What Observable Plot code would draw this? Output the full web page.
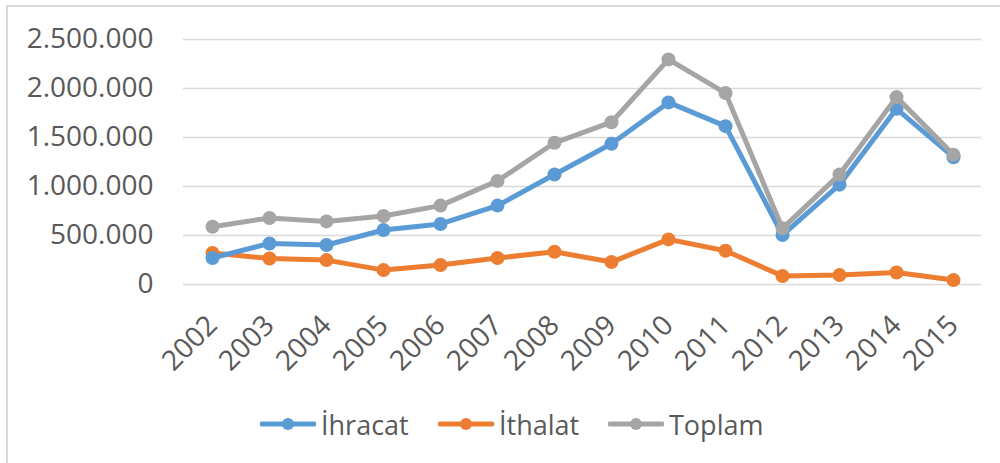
<!DOCTYPE html>
<html>
<head>
<meta charset="utf-8">
<script src="https://cdn.jsdelivr.net/npm/d3@7"></script>
<script src="https://cdn.jsdelivr.net/npm/@observablehq/plot@0.6"></script>
<style>
  html, body { margin: 0; padding: 0; background: #fff; width: 1000px; height: 463px; overflow: hidden; position: relative; }
  #frame { position: absolute; left: 6px; top: 5px; width: 1100px; height: 600px; border: 2px solid #d9d9d9; pointer-events: none; }
  #chart { position: absolute; left: 0; top: 0; }
  #legend { position: absolute; left: 0; top: 404px; width: 1000px; height: 40px; font-family: "Open Sans", sans-serif; font-size: 27px; color: #595959; }
  .item { position: absolute; top: 0; display: flex; align-items: center; height: 40px; }
  .item svg { margin-right: 5px; }
</style>
</head>
<body>
<div id="chart"></div>
<div id="legend"></div>
<div id="frame"></div>
<script>
const years = ["2002","2003","2004","2005","2006","2007","2008","2009","2010","2011","2012","2013","2014","2015"];
const ihracat = [270000, 419000, 403000, 556000, 618000, 805000, 1122000, 1436000, 1858000, 1616000, 505000, 1019000, 1793000, 1299000];
const ithalat = [321000, 266000, 249000, 147000, 198000, 270000, 334000, 229000, 460000, 345000, 86000, 96000, 123000, 45000];
const toplam  = [590000, 679000, 644000, 699000, 805000, 1057000, 1446000, 1656000, 2297000, 1953000, 573000, 1122000, 1912000, 1323000];
const seriesNames = ["İhracat", "İthalat", "Toplam"];
const seriesColors = ["#5B9BD5", "#ED7D31", "#A5A5A5"];
const yTicks = [0, 500000, 1000000, 1500000, 2000000, 2500000];

const seriesValues = [ihracat, ithalat, toplam];
const rows = [];
seriesNames.forEach((name, si) => {
  years.forEach((yr, i) => rows.push({series: name, year: yr, value: seriesValues[si][i]}));
});
// draw order: Toplam is drawn last? In reference gray sits on top of blue
const order = ["İthalat", "İhracat", "Toplam"];

const fmt = v => d3.format(",")(v).replace(/,/g, ".");

const marks = [
  Plot.ruleY(yTicks, {stroke: "#d9d9d9", strokeWidth: 1.5}),
  Plot.axisY({ticks: yTicks, tickFormat: fmt, tickSize: 0, tickPadding: 30, fontSize: 28, fill: "#595959", label: null}),
  Plot.axisX({tickSize: 0, tickRotate: -45, tickPadding: 36, fontSize: 28, fill: "#595959", label: null})
];
order.forEach(name => {
  const c = seriesColors[seriesNames.indexOf(name)];
  const data = rows.filter(d => d.series === name);
  marks.push(Plot.line(data, {x: "year", y: "value", stroke: c, strokeWidth: 5, strokeLinejoin: "round"}));
  marks.push(Plot.dot(data, {x: "year", y: "value", fill: c, r: 7}));
});

const plot = Plot.plot({
  width: 1000,
  height: 400,
  marginLeft: 183,
  marginRight: 19,
  marginTop: 39,
  marginBottom: 116,
  style: {fontFamily: "'Open Sans', sans-serif", color: "#595959", background: "transparent"},
  x: {type: "point", domain: years, padding: 0.5},
  y: {domain: [0, 2500000]},
  marks
});
document.getElementById("chart").appendChild(plot);

const legend = document.getElementById("legend");
const positions = [260, 438, 608];
seriesNames.forEach((name, i) => {
  const item = document.createElement("div");
  item.className = "item";
  item.style.left = positions[i] + "px";
  item.innerHTML = `<svg width="56" height="16"><line x1="2" y1="8" x2="54" y2="8" stroke="${seriesColors[i]}" stroke-width="5" stroke-linecap="round"/><circle cx="28" cy="8" r="6" fill="${seriesColors[i]}"/></svg><span>${name}</span>`;
  legend.appendChild(item);
});
</script>
</body>
</html>
